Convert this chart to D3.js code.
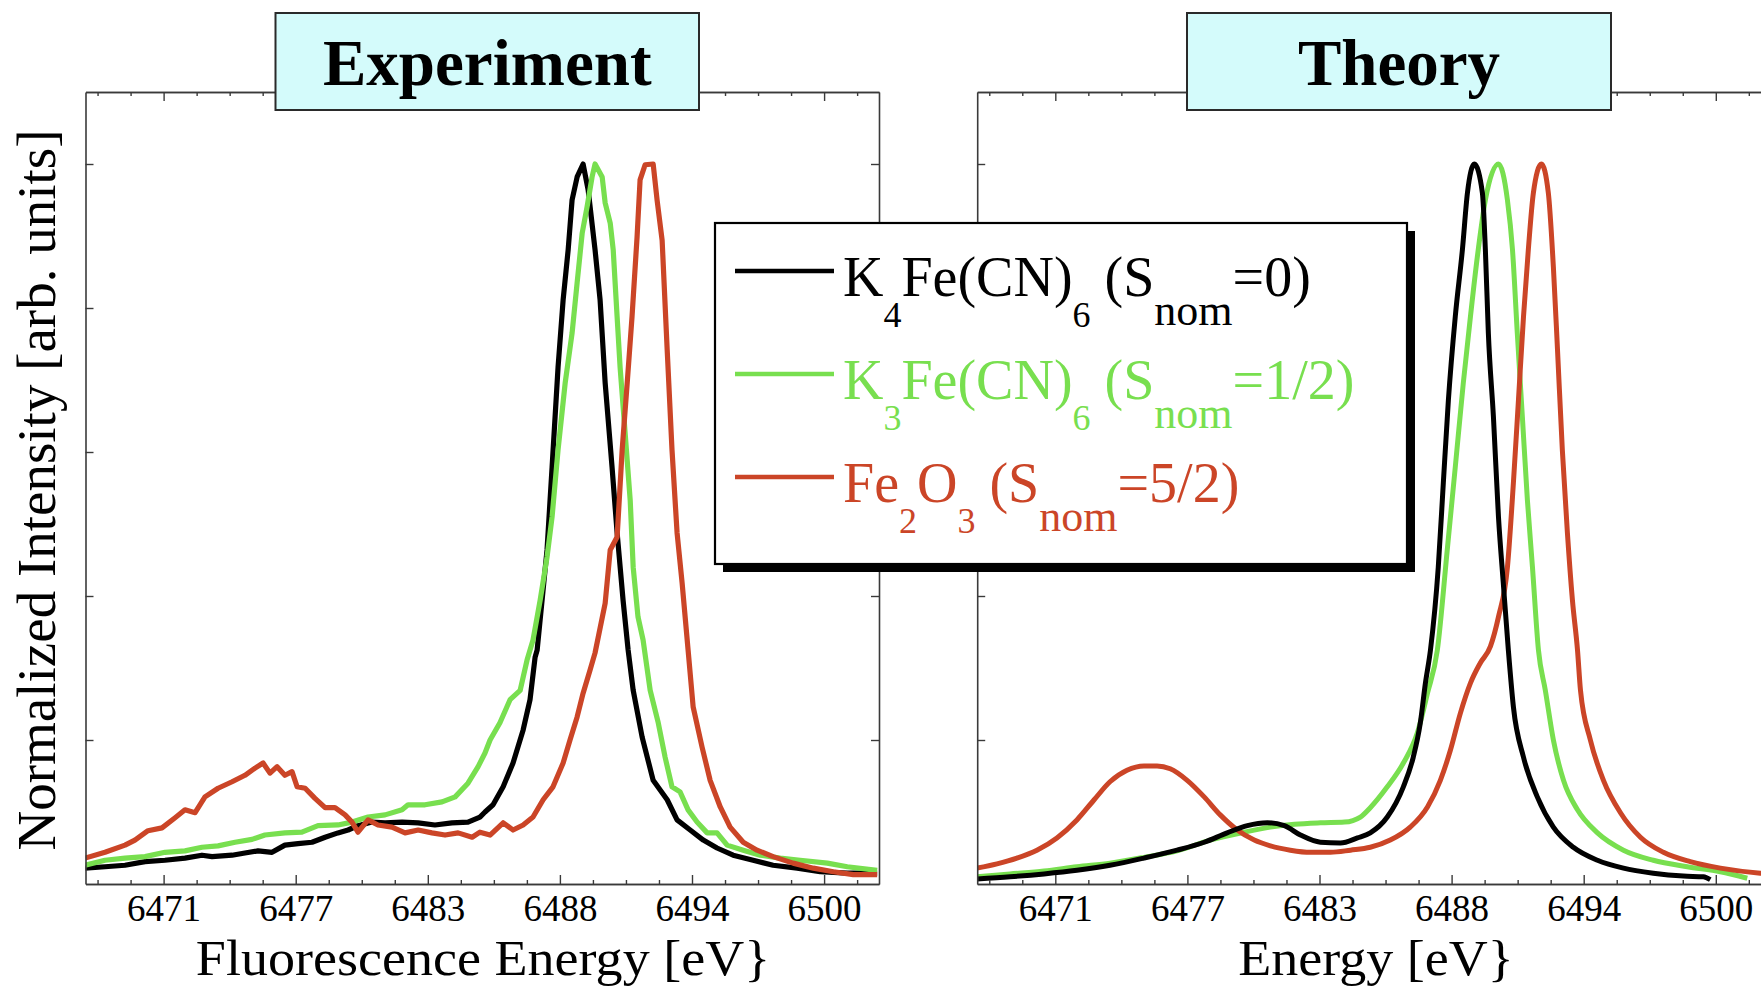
<!DOCTYPE html>
<html>
<head>
<meta charset="utf-8">
<script src="https://cdn.jsdelivr.net/npm/d3@7"></script>
<style>
  html, body { margin: 0; padding: 0; background: #fff; }
  svg { display: block; }
  text { font-family: "Liberation Serif", "Times New Roman", serif; }
</style>
</head>
<body>
<svg id="chart" width="1761" height="986"></svg>
<script>
// ---- axis settings ----
const energyDomain = [6467.85, 6502.39];
const energyTicks = [6471.25, 6477, 6482.75, 6488.5, 6494.25, 6500];
const tickLabels = ["6471", "6477", "6483", "6488", "6494", "6500"];
const minorStep = 1.4375;
const intensityTicks = [0.2, 0.4, 0.6, 0.8, 1.0];

// ---- measured spectra (energy eV, normalized intensity) ----
const expK4 = [
  [6467.83,.022],[6468.70,.024],[6469.57,.026],[6470.44,.031],[6471.31,.033],[6472.18,.036],
  [6472.92,.040],[6473.36,.038],[6474.23,.040],[6474.79,.043],[6475.36,.046],[6475.97,.044],
  [6476.53,.054],[6477.10,.056],[6477.71,.058],[6478.28,.065],[6478.84,.071],[6479.28,.075],
  [6479.71,.081],[6480.32,.086],[6480.89,.085],[6481.63,.086],[6482.33,.085],[6483.06,.082],
  [6483.80,.085],[6484.50,.086],[6485.02,.093],[6485.24,.100],[6485.59,.110],[6486.03,.135],
  [6486.46,.168],[6486.90,.214],[6487.20,.256],[6487.42,.315],[6487.51,.325],[6487.94,.464],
  [6488.16,.579],[6488.42,.718],[6488.64,.811],[6488.86,.881],[6489.03,.950],[6489.25,.982],
  [6489.51,1.000],[6489.73,.964],[6490.03,.881],[6490.25,.811],[6490.47,.696],[6490.77,.579],
  [6490.99,.488],[6491.25,.394],[6491.47,.325],[6491.69,.269],[6492.08,.204],[6492.56,.144],
  [6493.17,.117],[6493.60,.089],[6494.17,.075],[6494.74,.061],[6495.34,.050],[6496.04,.040],
  [6496.91,.033],[6497.78,.026],[6498.83,.022],[6499.83,.017],[6501.01,.015],[6502.31,.015]
];
const expK3 = [
  [6467.83,.026],[6468.70,.033],[6469.57,.036],[6470.44,.038],[6471.31,.044],[6472.18,.046],
  [6472.92,.051],[6473.62,.053],[6474.36,.058],[6475.10,.062],[6475.66,.068],[6476.53,.071],
  [6477.27,.072],[6477.97,.081],[6478.84,.082],[6479.45,.086],[6480.15,.093],[6480.89,.096],
  [6481.63,.103],[6481.89,.110],[6482.63,.110],[6483.37,.114],[6483.94,.121],[6484.50,.140],
  [6484.94,.163],[6485.24,.182],[6485.46,.200],[6485.89,.224],[6486.33,.256],[6486.77,.269],
  [6487.07,.311],[6487.33,.339],[6487.64,.394],[6487.94,.454],[6488.16,.510],[6488.42,.603],
  [6488.73,.696],[6489.03,.765],[6489.25,.835],[6489.47,.904],[6489.68,.940],[6489.90,.982],
  [6490.03,1.000],[6490.34,.982],[6490.47,.946],[6490.69,.918],[6490.82,.881],[6490.99,.788],
  [6491.12,.718],[6491.34,.626],[6491.56,.533],[6491.69,.440],[6491.90,.371],[6492.12,.339],
  [6492.43,.269],[6492.78,.224],[6493.08,.176],[6493.38,.135],[6493.73,.128],[6494.08,.103],
  [6494.47,.086],[6494.91,.071],[6495.34,.071],[6495.78,.054],[6496.48,.047],[6497.22,.040],
  [6498.09,.036],[6498.96,.033],[6500.14,.029],[6501.01,.024],[6502.31,.019]
];
const expFe2O3 = [
  [6467.83,.036],[6468.70,.044],[6469.57,.054],[6470.00,.061],[6470.57,.074],[6471.18,.078],
  [6471.75,.092],[6472.18,.103],[6472.62,.099],[6473.05,.121],[6473.62,.133],[6474.23,.142],
  [6474.79,.151],[6475.23,.161],[6475.58,.168],[6475.88,.154],[6476.19,.163],[6476.53,.151],
  [6476.84,.156],[6477.06,.135],[6477.41,.133],[6477.84,.119],[6478.28,.106],[6478.71,.106],
  [6479.15,.096],[6479.45,.086],[6479.71,.072],[6480.15,.089],[6480.58,.082],[6481.19,.079],
  [6481.76,.071],[6482.33,.075],[6482.93,.071],[6483.50,.068],[6484.07,.071],[6484.68,.065],
  [6485.02,.072],[6485.46,.068],[6486.03,.085],[6486.46,.075],[6486.90,.082],[6487.33,.093],
  [6487.77,.117],[6488.20,.135],[6488.64,.168],[6488.94,.200],[6489.25,.232],[6489.51,.265],
  [6489.81,.297],[6490.03,.321],[6490.47,.390],[6490.69,.464],[6490.99,.482],[6491.21,.603],
  [6491.43,.696],[6491.64,.788],[6491.86,.899],[6491.99,.978],[6492.21,.999],[6492.56,1.000],
  [6492.73,.950],[6492.95,.894],[6493.17,.742],[6493.38,.603],[6493.60,.488],[6493.82,.418],
  [6494.08,.325],[6494.30,.246],[6494.69,.190],[6495.04,.144],[6495.48,.107],[6495.91,.079],
  [6496.48,.058],[6497.08,.047],[6497.78,.038],[6498.65,.029],[6499.53,.022],[6500.40,.017],
  [6501.27,.013],[6502.31,.013]
];

// ---- calculated spectra ----
const thK4 = [
  [6467.84,.007],[6469.28,.010],[6470.76,.014],[6472.19,.019],[6473.63,.026],[6475.11,.036],
  [6476.55,.047],[6477.73,.058],[6478.73,.071],[6479.61,.081],[6480.48,.085],[6481.22,.081],
  [6481.92,.068],[6482.79,.058],[6483.66,.057],[6484.40,.064],[6484.96,.071],[6485.70,.093],
  [6486.40,.135],[6486.83,.176],[6487.14,.224],[6487.36,.279],[6487.58,.325],[6487.92,.440],
  [6488.14,.557],[6488.36,.672],[6488.66,.788],[6488.97,.881],[6489.19,.960],[6489.49,1.000],
  [6489.84,.960],[6489.97,.881],[6490.10,.765],[6490.32,.649],[6490.54,.510],[6490.75,.418],
  [6490.97,.325],[6491.19,.246],[6491.63,.176],[6492.23,.121],[6492.93,.079],[6493.80,.051],
  [6494.85,.033],[6495.98,.022],[6497.28,.015],[6498.59,.011],[6499.46,.010],[6499.76,.006]
];
const thK3 = [
  [6467.84,.010],[6469.28,.014],[6470.76,.018],[6472.19,.024],[6473.63,.029],[6475.11,.037],
  [6476.55,.046],[6477.99,.061],[6479.48,.072],[6480.61,.079],[6481.66,.083],[6482.79,.085],
  [6483.84,.086],[6484.53,.093],[6484.96,.106],[6485.70,.135],[6486.40,.168],[6487.01,.210],
  [6487.45,.265],[6487.88,.325],[6488.31,.464],[6488.66,.579],[6489.01,.696],[6489.32,.788],
  [6489.62,.871],[6489.97,.950],[6490.54,1.000],[6490.93,.950],[6491.15,.881],[6491.36,.765],
  [6491.58,.649],[6491.80,.533],[6492.02,.440],[6492.28,.325],[6492.58,.269],[6492.93,.200],
  [6493.37,.144],[6493.98,.103],[6494.85,.071],[6495.98,.047],[6497.28,.033],[6498.76,.024],
  [6500.20,.017],[6501.37,.008]
];
const thFe2O3 = [
  [6467.84,.022],[6468.71,.028],[6469.58,.036],[6470.45,.047],[6471.32,.064],[6472.19,.089],
  [6472.94,.117],[6473.63,.142],[6474.37,.158],[6475.11,.164],[6475.68,.164],[6476.25,.160],
  [6476.99,.144],[6477.73,.121],[6478.43,.096],[6479.17,.075],[6479.91,.061],[6480.61,.053],
  [6481.48,.047],[6482.36,.044],[6483.23,.044],[6484.10,.047],[6484.96,.051],[6485.83,.061],
  [6486.70,.079],[6487.45,.107],[6488.01,.144],[6488.45,.186],[6488.88,.237],[6489.32,.279],
  [6489.75,.307],[6490.19,.330],[6490.54,.371],[6490.93,.440],[6491.19,.557],[6491.41,.672],
  [6491.63,.788],[6491.84,.881],[6492.06,.960],[6492.41,1.000],[6492.71,.960],[6492.93,.857],
  [6493.11,.742],[6493.32,.603],[6493.54,.488],[6493.76,.394],[6493.98,.325],[6494.11,.269],
  [6494.54,.200],[6495.11,.144],[6495.85,.099],[6496.72,.065],[6497.72,.044],[6498.89,.031],
  [6500.20,.022],[6501.94,.015],[6502.40,.014]
];

const seriesNames = ["K4Fe(CN)6", "K3Fe(CN)6", "Fe2O3"];
const seriesColors = ["#000000", "#78df4f", "#cb4527"];

// ---- layout ----
const svg = d3.select("#chart");
const yBottom = 884;
const plotWidth = 793.5;
const y = d3.scaleLinear().domain([0, 1]).range([yBottom, 164]);
const frameColor = "#3a3a3a";

function drawPanel(x0, clipId, series, curve, order, strokeW, xTitle, xTitleCenter) {
  const x = d3.scaleLinear().domain(energyDomain).range([x0, x0 + plotWidth]);
  const g = svg.append("g");

  const minorTicks = d3.range(-2, 22)
    .filter(j => j % 4 !== 0)
    .map(j => energyTicks[0] + j * minorStep)
    .filter(v => v >= energyDomain[0] && v <= energyDomain[1]);

  svg.append("clipPath").attr("id", clipId)
    .append("rect").attr("x", x0).attr("y", y(1.1))
    .attr("width", plotWidth).attr("height", yBottom - y(1.1));

  // curves
  const line = d3.line().x(d => x(d[0])).y(d => y(d[1])).curve(curve);
  const cg = g.append("g").attr("clip-path", `url(#${clipId})`);
  order.forEach(i => {
    cg.append("path").datum(series[i])
      .attr("d", line)
      .attr("fill", "none")
      .attr("stroke", seriesColors[i])
      .attr("stroke-width", strokeW)
      .attr("stroke-linejoin", "round");
  });

  const styleAxis = sel => {
    sel.selectAll("path.domain").attr("stroke", frameColor).attr("stroke-width", 1.6);
    sel.selectAll(".tick line").attr("stroke", frameColor).attr("stroke-width", 1.4);
  };

  // bottom axis: majors with labels, minors without
  const bottom = g.append("g").attr("transform", `translate(0,${yBottom})`)
    .call(d3.axisBottom(x).tickValues(energyTicks).tickSize(-9).tickSizeOuter(0)
      .tickFormat((d, i) => tickLabels[i]));
  bottom.selectAll("text")
    .attr("y", 37).attr("dy", null)
    .attr("fill", "#000").style("font-size", "37px")
    .style("font-family", '"Liberation Serif", "Times New Roman", serif');
  styleAxis(bottom);
  const bottomMinor = g.append("g").attr("transform", `translate(0,${yBottom})`)
    .call(d3.axisBottom(x).tickValues(minorTicks).tickSize(-4).tickSizeOuter(0).tickFormat(""));
  styleAxis(bottomMinor);

  // top axis
  const top = g.append("g").attr("transform", `translate(0,${y(1.1)})`)
    .call(d3.axisTop(x).tickValues(energyTicks).tickSize(-9).tickSizeOuter(0).tickFormat(""));
  styleAxis(top);
  const topMinor = g.append("g").attr("transform", `translate(0,${y(1.1)})`)
    .call(d3.axisTop(x).tickValues(minorTicks).tickSize(-4).tickSizeOuter(0).tickFormat(""));
  styleAxis(topMinor);

  // left and right axes
  const yAxisScale = y.copy().domain([0, 1.1]).range([yBottom, y(1.1)]);
  const left = g.append("g").attr("transform", `translate(${x0},0)`)
    .call(d3.axisLeft(yAxisScale).tickValues(intensityTicks).tickSize(-8).tickSizeOuter(0).tickFormat(""));
  styleAxis(left);
  const right = g.append("g").attr("transform", `translate(${x0 + plotWidth},0)`)
    .call(d3.axisRight(yAxisScale).tickValues(intensityTicks).tickSize(-8).tickSizeOuter(0).tickFormat(""));
  styleAxis(right);

  // x axis title (slightly widened serif)
  svg.append("text")
    .attr("transform", `translate(${xTitleCenter},975) scale(1.06,1)`)
    .attr("text-anchor", "middle")
    .style("font-size", "51px")
    .text(xTitle);
}

drawPanel(85.5, "clipExp", [expK4, expK3, expFe2O3], d3.curveLinear, [0, 1, 2], 5.2,
  "Fluorescence Energy [eV}", 483);
drawPanel(977.2, "clipTh", [thK4, thK3, thFe2O3], d3.curveMonotoneX, [1, 2, 0], 5.0,
  "Energy [eV}", 1376);

// y axis title
svg.append("text")
  .attr("transform", "translate(55,490) rotate(-90)")
  .attr("text-anchor", "middle")
  .style("font-size", "55px")
  .text("Normalized Intensity [arb. units]");

// panel titles
function titleBox(x, w, label) {
  svg.append("rect").attr("x", x).attr("y", 13).attr("width", w).attr("height", 97)
    .attr("fill", "#d4fbfb").attr("stroke", "#2a2a2a").attr("stroke-width", 2);
  svg.append("text")
    .attr("x", x + w / 2).attr("y", 85)
    .attr("text-anchor", "middle")
    .style("font-size", "65px").style("font-weight", "bold")
    .text(label);
}
titleBox(275.5, 423.5, "Experiment");
titleBox(1187, 424, "Theory");

// legend
const legend = svg.append("g");
const lx = 715, ly = 223, lw = 692, lh = 341;
legend.append("rect").attr("x", lx + 8).attr("y", ly + 8).attr("width", lw).attr("height", lh)
  .attr("fill", "#000");
legend.append("rect").attr("x", lx).attr("y", ly).attr("width", lw).attr("height", lh)
  .attr("fill", "#fff").attr("stroke", "#000").attr("stroke-width", 2.2);

// text pieces: [text, kind] kind 0 = main, 1 = numeric subscript, 2 = "nom" subscript
const legendParts = [
  [["K",0],["4",1],["Fe(CN)",0],["6",1],[" (S",0],["nom",2],["=0)",0]],
  [["K",0],["3",1],["Fe(CN)",0],["6",1],[" (S",0],["nom",2],["=1/2)",0]],
  [["Fe",0],["2",1],["O",0],["3",1],[" (S",0],["nom",2],["=5/2)",0]]
];
const subSize = [56, 36, 44];
const subShift = [0, 31, 29];
legendParts.forEach((parts, i) => {
  const base = 296 + i * 103;
  legend.append("line")
    .attr("x1", 735).attr("x2", 834).attr("y1", base - 25).attr("y2", base - 25)
    .attr("stroke", seriesColors[i]).attr("stroke-width", 4.5);
  const t = legend.append("text")
    .attr("x", 843).attr("y", base)
    .attr("fill", seriesColors[i])
    .style("white-space", "pre");
  let prevShift = 0;
  parts.forEach(([s, k]) => {
    t.append("tspan")
      .attr("dy", subShift[k] - prevShift)
      .style("font-size", subSize[k] + "px")
      .text(s);
    prevShift = subShift[k];
  });
});
</script>
</body>
</html>
